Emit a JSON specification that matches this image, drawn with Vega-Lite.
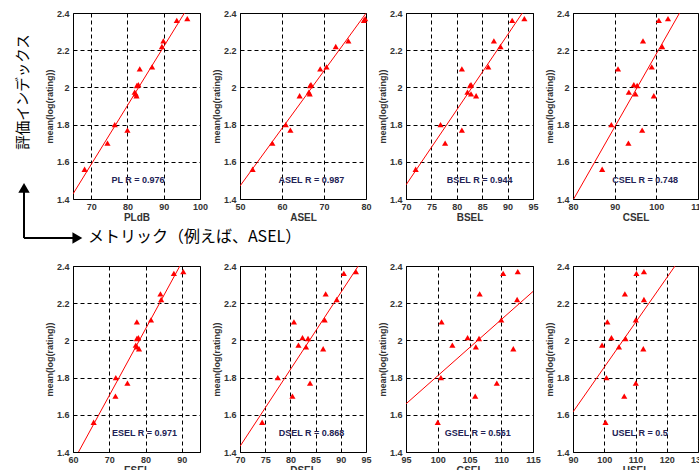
{
  "$schema": "https://vega.github.io/schema/vega-lite/v6.json",
  "autosize": {"type": "none"},
  "padding": {"left": 73, "top": 13, "right": 626, "bottom": 457},
  "background": "white",
  "data": {"values": [
    {"rating": 2.37, "PLdB": 96.5, "ASEL": 79.8, "BSEL": 93.3, "CSEL": 102.8, "ESEL": 90.4, "DSEL": 93.0, "GSEL": 112.6, "USEL": 112.7},
    {"rating": 2.36, "PLdB": 93.6, "ASEL": 79.5, "BSEL": 90.9, "CSEL": 100.6, "ESEL": 87.8, "DSEL": 90.6, "GSEL": 110.3, "USEL": 110.3},
    {"rating": 2.25, "PLdB": 89.9, "ASEL": 75.8, "BSEL": 87.3, "CSEL": 96.8, "ESEL": 84.1, "DSEL": 87.0, "GSEL": 106.6, "USEL": 106.6},
    {"rating": 2.22, "PLdB": 89.5, "ASEL": 72.8, "BSEL": 88.6, "CSEL": 101.4, "ESEL": 84.3, "DSEL": 89.2, "GSEL": 112.5, "USEL": 112.7},
    {"rating": 2.11, "PLdB": 86.8, "ASEL": 70.6, "BSEL": 86.2, "CSEL": 98.9, "ESEL": 81.5, "DSEL": 86.8, "GSEL": 110.0, "USEL": 110.1},
    {"rating": 2.10, "PLdB": 83.4, "ASEL": 69.1, "BSEL": 81.0, "CSEL": 90.8, "ESEL": 77.6, "DSEL": 80.7, "GSEL": 100.6, "USEL": 101.0},
    {"rating": 2.015, "PLdB": 83.0, "ASEL": 66.9, "BSEL": 82.8, "CSEL": 94.6, "ESEL": 78.0, "DSEL": 82.4, "GSEL": 104.7, "USEL": 102.3},
    {"rating": 2.01, "PLdB": 82.6, "ASEL": 66.7, "BSEL": 82.6, "CSEL": 95.4, "ESEL": 77.6, "DSEL": 83.5, "GSEL": 106.5, "USEL": 106.8},
    {"rating": 1.975, "PLdB": 82.0, "ASEL": 66.4, "BSEL": 82.1, "CSEL": 93.4, "ESEL": 77.3, "DSEL": 81.6, "GSEL": 102.3, "USEL": 99.3},
    {"rating": 1.965, "PLdB": 82.3, "ASEL": 66.6, "BSEL": 82.8, "CSEL": 95.0, "ESEL": 77.6, "DSEL": 83.1, "GSEL": 106.0, "USEL": 104.7},
    {"rating": 1.955, "PLdB": 82.5, "ASEL": 64.2, "BSEL": 83.8, "CSEL": 99.4, "ESEL": 78.2, "DSEL": 86.5, "GSEL": 111.9, "USEL": 112.5},
    {"rating": 1.80, "PLdB": 76.5, "ASEL": 60.9, "BSEL": 76.8, "CSEL": 89.2, "ESEL": 71.8, "DSEL": 77.5, "GSEL": 100.5, "USEL": 100.7},
    {"rating": 1.77, "PLdB": 80.0, "ASEL": 62.0, "BSEL": 81.0, "CSEL": 96.6, "ESEL": 75.0, "DSEL": 83.9, "GSEL": 109.3, "USEL": 110.1},
    {"rating": 1.70, "PLdB": 74.5, "ASEL": 57.7, "BSEL": 77.7, "CSEL": 93.3, "ESEL": 71.7, "DSEL": 80.4, "GSEL": 105.9, "USEL": 106.4},
    {"rating": 1.56, "PLdB": 68.2, "ASEL": 53.0, "BSEL": 71.9, "CSEL": 87.0, "ESEL": 65.7, "DSEL": 74.4, "GSEL": 100.0, "USEL": 100.4}
  ]},
  "columns": 4,
  "spacing": {"row": 67, "column": 40},
  "bounds": "flush",
  "concat": [
    {
      "width": 127, "height": 186,
      "layer": [
        {"transform": [{"regression": "rating", "on": "PLdB", "extent": [65, 100]}],
         "mark": {"type": "line", "color": "#ff0000", "strokeWidth": 1, "clip": true},
         "encoding": {
           "x": {"field": "PLdB", "type": "quantitative", "scale": {"domain": [65, 100], "nice": false, "zero": false}, "axis": {"values": [70, 80, 90, 100], "tickCount": 12, "title": "PLdB"}},
           "y": {"field": "rating", "type": "quantitative", "scale": {"domain": [1.4, 2.4], "nice": false, "zero": false}, "axis": {"values": [1.4, 1.6, 1.8, 2, 2.2, 2.4], "tickCount": 12, "format": "~g", "title": "mean(log(rating))"}}}},
        {"mark": {"type": "point", "shape": "triangle-up", "filled": true, "color": "#ff0000", "size": 38, "opacity": 1},
         "encoding": {"x": {"field": "PLdB", "type": "quantitative", "title": "PLdB"}, "y": {"field": "rating", "type": "quantitative", "title": "mean(log(rating))"}}},
        {"data": {"values": [{}]},
         "mark": {"type": "text", "text": "PL  R = 0.976", "font": "Liberation Sans", "fontSize": 9, "fontWeight": "bold", "color": "#222255", "align": "center", "baseline": "middle"},
         "encoding": {"x": {"datum": 82.9}, "y": {"datum": 1.5}}},
        {"data": {"values": [{}]},
         "mark": {"type": "text", "text": "評価インデックス", "angle": 270, "font": "Noto Sans CJK JP", "fontSize": 14.5, "color": "black", "align": "center", "baseline": "middle"},
         "encoding": {"x": {"datum": 51.4}, "y": {"datum": 1.975}}},
        {"data": {"values": [{}]},
         "mark": {"type": "rule", "color": "black", "strokeWidth": 2},
         "encoding": {"x": {"datum": 51.5}, "y": {"datum": 1.19}, "y2": {"datum": 1.45}}},
        {"data": {"values": [{}]},
         "mark": {"type": "rule", "color": "black", "strokeWidth": 2},
         "encoding": {"x": {"datum": 51.5}, "x2": {"datum": 65.5}, "y": {"datum": 1.19}}},
        {"data": {"values": [{}]},
         "mark": {"type": "point", "shape": "triangle-up", "filled": true, "color": "black", "size": 130, "opacity": 1},
         "encoding": {"x": {"datum": 51.5}, "y": {"datum": 1.46}}},
        {"data": {"values": [{}]},
         "mark": {"type": "point", "shape": "triangle-right", "filled": true, "color": "black", "size": 130, "opacity": 1},
         "encoding": {"x": {"datum": 66.2}, "y": {"datum": 1.19}}},
        {"data": {"values": [{}]},
         "mark": {"type": "text", "text": "メトリック（例えば、ASEL）", "font": "Noto Sans CJK JP", "fontSize": 16, "color": "black", "align": "left", "baseline": "middle"},
         "encoding": {"x": {"datum": 69.1}, "y": {"datum": 1.198}}}
      ]
    },
    {
      "width": 126, "height": 186,
      "layer": [
        {"transform": [{"regression": "rating", "on": "ASEL", "extent": [50, 80]}],
         "mark": {"type": "line", "color": "#ff0000", "strokeWidth": 1, "clip": true},
         "encoding": {
           "x": {"field": "ASEL", "type": "quantitative", "scale": {"domain": [50, 80], "nice": false, "zero": false}, "axis": {"values": [50, 60, 70, 80], "tickCount": 12, "title": "ASEL"}},
           "y": {"field": "rating", "type": "quantitative", "scale": {"domain": [1.4, 2.4], "nice": false, "zero": false}, "axis": {"values": [1.4, 1.6, 1.8, 2, 2.2, 2.4], "tickCount": 12, "format": "~g", "title": "mean(log(rating))"}}}},
        {"mark": {"type": "point", "shape": "triangle-up", "filled": true, "color": "#ff0000", "size": 38, "opacity": 1},
         "encoding": {"x": {"field": "ASEL", "type": "quantitative", "title": "ASEL"}, "y": {"field": "rating", "type": "quantitative", "title": "mean(log(rating))"}}},
        {"data": {"values": [{}]},
         "mark": {"type": "text", "text": "ASEL  R = 0.987", "font": "Liberation Sans", "fontSize": 9, "fontWeight": "bold", "color": "#222255", "align": "center", "baseline": "middle"},
         "encoding": {"x": {"datum": 67}, "y": {"datum": 1.5}}}
      ]
    },
    {
      "width": 127, "height": 186,
      "layer": [
        {"transform": [{"regression": "rating", "on": "BSEL", "extent": [70, 95]}],
         "mark": {"type": "line", "color": "#ff0000", "strokeWidth": 1, "clip": true},
         "encoding": {
           "x": {"field": "BSEL", "type": "quantitative", "scale": {"domain": [70, 95], "nice": false, "zero": false}, "axis": {"values": [70, 75, 80, 85, 90, 95], "tickCount": 12, "title": "BSEL"}},
           "y": {"field": "rating", "type": "quantitative", "scale": {"domain": [1.4, 2.4], "nice": false, "zero": false}, "axis": {"values": [1.4, 1.6, 1.8, 2, 2.2, 2.4], "tickCount": 12, "format": "~g", "title": "mean(log(rating))"}}}},
        {"mark": {"type": "point", "shape": "triangle-up", "filled": true, "color": "#ff0000", "size": 38, "opacity": 1},
         "encoding": {"x": {"field": "BSEL", "type": "quantitative", "title": "BSEL"}, "y": {"field": "rating", "type": "quantitative", "title": "mean(log(rating))"}}},
        {"data": {"values": [{}]},
         "mark": {"type": "text", "text": "BSEL  R = 0.944", "font": "Liberation Sans", "fontSize": 9, "fontWeight": "bold", "color": "#222255", "align": "center", "baseline": "middle"},
         "encoding": {"x": {"datum": 84.5}, "y": {"datum": 1.5}}}
      ]
    },
    {
      "width": 125, "height": 186,
      "layer": [
        {"transform": [{"regression": "rating", "on": "CSEL", "extent": [80, 110]}],
         "mark": {"type": "line", "color": "#ff0000", "strokeWidth": 1, "clip": true},
         "encoding": {
           "x": {"field": "CSEL", "type": "quantitative", "scale": {"domain": [80, 110], "nice": false, "zero": false}, "axis": {"values": [80, 90, 100, 110], "tickCount": 12, "title": "CSEL"}},
           "y": {"field": "rating", "type": "quantitative", "scale": {"domain": [1.4, 2.4], "nice": false, "zero": false}, "axis": {"values": [1.4, 1.6, 1.8, 2, 2.2, 2.4], "tickCount": 12, "format": "~g", "title": "mean(log(rating))"}}}},
        {"mark": {"type": "point", "shape": "triangle-up", "filled": true, "color": "#ff0000", "size": 38, "opacity": 1},
         "encoding": {"x": {"field": "CSEL", "type": "quantitative", "title": "CSEL"}, "y": {"field": "rating", "type": "quantitative", "title": "mean(log(rating))"}}},
        {"data": {"values": [{}]},
         "mark": {"type": "text", "text": "CSEL  R = 0.748", "font": "Liberation Sans", "fontSize": 9, "fontWeight": "bold", "color": "#222255", "align": "center", "baseline": "middle"},
         "encoding": {"x": {"datum": 97.3}, "y": {"datum": 1.5}}}
      ]
    },
    {
      "width": 127, "height": 186,
      "layer": [
        {"transform": [{"regression": "rating", "on": "ESEL", "extent": [60, 95]}],
         "mark": {"type": "line", "color": "#ff0000", "strokeWidth": 1, "clip": true},
         "encoding": {
           "x": {"field": "ESEL", "type": "quantitative", "scale": {"domain": [60, 95], "nice": false, "zero": false}, "axis": {"values": [60, 70, 80, 90], "tickCount": 12, "title": "ESEL"}},
           "y": {"field": "rating", "type": "quantitative", "scale": {"domain": [1.4, 2.4], "nice": false, "zero": false}, "axis": {"values": [1.4, 1.6, 1.8, 2, 2.2, 2.4], "tickCount": 12, "format": "~g", "title": "mean(log(rating))"}}}},
        {"mark": {"type": "point", "shape": "triangle-up", "filled": true, "color": "#ff0000", "size": 38, "opacity": 1},
         "encoding": {"x": {"field": "ESEL", "type": "quantitative", "title": "ESEL"}, "y": {"field": "rating", "type": "quantitative", "title": "mean(log(rating))"}}},
        {"data": {"values": [{}]},
         "mark": {"type": "text", "text": "ESEL  R = 0.971", "font": "Liberation Sans", "fontSize": 9, "fontWeight": "bold", "color": "#222255", "align": "center", "baseline": "middle"},
         "encoding": {"x": {"datum": 79.7}, "y": {"datum": 1.5}}}
      ]
    },
    {
      "width": 126, "height": 186,
      "layer": [
        {"transform": [{"regression": "rating", "on": "DSEL", "extent": [70, 95]}],
         "mark": {"type": "line", "color": "#ff0000", "strokeWidth": 1, "clip": true},
         "encoding": {
           "x": {"field": "DSEL", "type": "quantitative", "scale": {"domain": [70, 95], "nice": false, "zero": false}, "axis": {"values": [70, 75, 80, 85, 90, 95], "tickCount": 12, "title": "DSEL"}},
           "y": {"field": "rating", "type": "quantitative", "scale": {"domain": [1.4, 2.4], "nice": false, "zero": false}, "axis": {"values": [1.4, 1.6, 1.8, 2, 2.2, 2.4], "tickCount": 12, "format": "~g", "title": "mean(log(rating))"}}}},
        {"mark": {"type": "point", "shape": "triangle-up", "filled": true, "color": "#ff0000", "size": 38, "opacity": 1},
         "encoding": {"x": {"field": "DSEL", "type": "quantitative", "title": "DSEL"}, "y": {"field": "rating", "type": "quantitative", "title": "mean(log(rating))"}}},
        {"data": {"values": [{}]},
         "mark": {"type": "text", "text": "DSEL  R = 0.868", "font": "Liberation Sans", "fontSize": 9, "fontWeight": "bold", "color": "#222255", "align": "center", "baseline": "middle"},
         "encoding": {"x": {"datum": 84.2}, "y": {"datum": 1.5}}}
      ]
    },
    {
      "width": 127, "height": 186,
      "layer": [
        {"transform": [{"regression": "rating", "on": "GSEL", "extent": [95, 115]}],
         "mark": {"type": "line", "color": "#ff0000", "strokeWidth": 1, "clip": true},
         "encoding": {
           "x": {"field": "GSEL", "type": "quantitative", "scale": {"domain": [95, 115], "nice": false, "zero": false}, "axis": {"values": [95, 100, 105, 110, 115], "tickCount": 12, "title": "GSEL"}},
           "y": {"field": "rating", "type": "quantitative", "scale": {"domain": [1.4, 2.4], "nice": false, "zero": false}, "axis": {"values": [1.4, 1.6, 1.8, 2, 2.2, 2.4], "tickCount": 12, "format": "~g", "title": "mean(log(rating))"}}}},
        {"mark": {"type": "point", "shape": "triangle-up", "filled": true, "color": "#ff0000", "size": 38, "opacity": 1},
         "encoding": {"x": {"field": "GSEL", "type": "quantitative", "title": "GSEL"}, "y": {"field": "rating", "type": "quantitative", "title": "mean(log(rating))"}}},
        {"data": {"values": [{}]},
         "mark": {"type": "text", "text": "GSEL  R = 0.561", "font": "Liberation Sans", "fontSize": 9, "fontWeight": "bold", "color": "#222255", "align": "center", "baseline": "middle"},
         "encoding": {"x": {"datum": 106.3}, "y": {"datum": 1.5}}}
      ]
    },
    {
      "width": 125, "height": 186,
      "layer": [
        {"transform": [{"regression": "rating", "on": "USEL", "extent": [90, 130]}],
         "mark": {"type": "line", "color": "#ff0000", "strokeWidth": 1, "clip": true},
         "encoding": {
           "x": {"field": "USEL", "type": "quantitative", "scale": {"domain": [90, 130], "nice": false, "zero": false}, "axis": {"values": [90, 100, 110, 120, 130], "tickCount": 12, "title": "USEL"}},
           "y": {"field": "rating", "type": "quantitative", "scale": {"domain": [1.4, 2.4], "nice": false, "zero": false}, "axis": {"values": [1.4, 1.6, 1.8, 2, 2.2, 2.4], "tickCount": 12, "format": "~g", "title": "mean(log(rating))"}}}},
        {"mark": {"type": "point", "shape": "triangle-up", "filled": true, "color": "#ff0000", "size": 38, "opacity": 1},
         "encoding": {"x": {"field": "USEL", "type": "quantitative", "title": "USEL"}, "y": {"field": "rating", "type": "quantitative", "title": "mean(log(rating))"}}},
        {"data": {"values": [{}]},
         "mark": {"type": "text", "text": "USEL  R = 0.5", "font": "Liberation Sans", "fontSize": 9, "fontWeight": "bold", "color": "#222255", "align": "center", "baseline": "middle"},
         "encoding": {"x": {"datum": 111.4}, "y": {"datum": 1.5}}}
      ]
    }
  ],
  "config": {
    "view": {"stroke": "black", "strokeWidth": 1},
    "axis": {
      "grid": true, "gridColor": "black", "gridDash": [4, 3], "gridWidth": 1, "gridOpacity": 1,
      "domain": false, "ticks": false,
      "labelFont": "Liberation Sans", "labelFontSize": 9, "labelFontWeight": "bold", "labelColor": "#333333",
      "labelFlush": false, "labelOverlap": false, "labelPadding": 3,
      "titleFont": "Liberation Sans", "titleFontSize": 10, "titleFontWeight": "bold", "titleColor": "#333333"
    },
    "axisY": {"titlePadding": 2, "labelPadding": 4, "titleFontSize": 9},
    "axisX": {"titlePadding": 1}
  }
}
